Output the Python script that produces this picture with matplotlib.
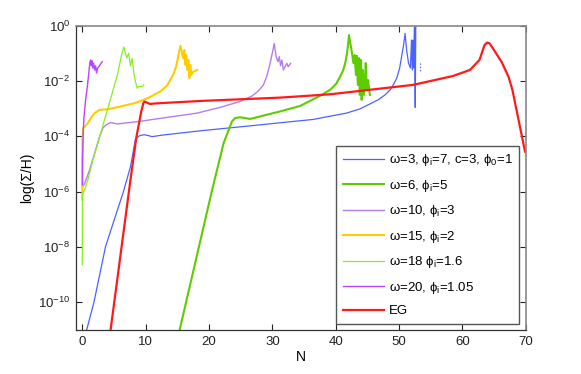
import numpy as np
import matplotlib
matplotlib.use("Agg")
import matplotlib.pyplot as plt
from matplotlib.ticker import FixedLocator, NullLocator

plt.rcParams['font.family'] = ['Liberation Sans', 'DejaVu Sans']
plt.rcParams['mathtext.default'] = 'regular'
plt.rcParams['font.size'] = 8

# ---------------- data (N, log10(Sigma/H)) ----------------
N_w3 = [0.68, 1.83, 3.67, 6.5, 7.6, 8.39, 9.0, 9.7, 10.4, 11.0, 11.9, 12.8, 18.6, 26.5, 31.2,
        36.4, 41.7, 43.8, 45.4, 46.7, 47.8, 48.6, 49.2, 49.65, 50.1, 50.4, 50.75, 50.96,
        51.2, 51.5, 51.8, 51.97, 52.1, 52.2, 52.3, 52.45, 52.56, 52.65]
L_w3 = [-11.0, -10.0, -7.98, -5.99, -5.1, -4.1, -3.98, -3.94, -3.97, -4.01, -3.98, -3.95, -3.80,
        -3.62, -3.51, -3.39, -3.16, -3.01, -2.83, -2.68, -2.50, -2.32, -2.10, -1.89, -1.53,
        -1.13, -0.66, -0.28, -0.88, -1.35, -1.53, -0.52, -1.60, -0.52, -1.53, 0.2, -2.95, 0.03]
N_w3b = [53.3, 53.3]
L_w3b = [-1.35, -1.71]

N_w6 = [15.37, 20.5, 22.3, 23.6, 24.1, 24.9, 26.5, 31.2, 34.4, 37.5, 39.1, 40.05, 40.7, 41.2,
        41.5, 41.8, 42.0, 42.1, 42.5, 42.8, 43.0, 43.2, 43.35, 43.5, 43.7, 43.8, 44.0, 44.1,
        44.3, 44.45, 44.6, 44.75, 44.9, 45.1, 45.4]
L_w6 = [-10.99, -5.93, -4.25, -3.47, -3.34, -3.31, -3.37, -3.10, -2.90, -2.54, -2.32, -2.11,
        -1.84, -1.60, -1.36, -0.99, -0.59, -0.34, -0.88, -1.35, -1.06, -1.78, -1.09, -2.14,
        -1.17, -2.50, -1.24, -2.68, -1.60, -2.50, -2.14, -1.35, -2.32, -1.96, -2.50]

N_w10 = [0.09, 0.36, 1.15, 1.94, 2.72, 3.24, 3.78, 4.46, 5.51, 8.66, 18.1, 21.8, 24.9, 26.8,
         27.8, 28.6, 29.1, 29.65, 30.1, 30.3, 30.6, 30.9, 31.1, 31.3, 31.5, 31.75, 32.0, 32.3,
         32.5, 32.9]
L_w10 = [-5.81, -5.71, -5.21, -4.61, -4.01, -3.70, -3.58, -3.50, -3.55, -3.47, -3.16, -2.95,
         -2.74, -2.54, -2.36, -2.14, -1.84, -1.36, -0.88, -0.64, -1.12, -1.30, -1.12, -1.45,
         -1.24, -1.60, -1.48, -1.36, -1.48, -1.36]

N_w15 = [0.0, 0.03, 0.13, 0.36, 0.88, 1.46, 1.94, 2.72, 4.03, 6.03, 8.24, 9.7, 10.75, 12.3,
         13.3, 13.9, 14.4, 14.8, 15.1, 15.3, 15.5, 15.7, 15.9, 16.1, 16.3, 16.4, 16.6, 16.75,
         16.9, 17.05, 17.2, 17.5, 18.1]
L_w15 = [-6.29, -4.13, -3.69, -3.65, -3.52, -3.30, -3.16, -3.04, -3.02, -2.92, -2.80, -2.68,
         -2.57, -2.38, -2.18, -1.96, -1.74, -1.48, -1.17, -0.91, -0.73, -0.95, -1.18, -0.88,
         -1.42, -1.06, -1.60, -1.24, -1.89, -1.42, -1.78, -1.67, -1.60]

N_w18 = [0.0, 0.02, 0.36, 0.88, 1.67, 2.46, 3.5, 4.57, 5.6, 6.19, 6.55, 7.0, 7.3, 7.6, 7.87,
         8.13, 8.4, 8.66, 8.9, 9.45, 9.7]
L_w18 = [-8.64, -6.11, -5.93, -5.57, -4.85, -4.25, -3.40, -2.56, -1.72, -1.06, -0.77, -1.17,
         -1.0, -1.45, -1.18, -1.72, -2.03, -2.26, -2.20, -2.20, -2.14]

N_w20 = [0.0, 0.02, 0.13, 0.25, 0.52, 0.79, 0.99, 1.2, 1.31, 1.43, 1.54, 1.67, 1.78, 1.94,
         2.1, 2.25, 2.4, 2.6, 2.88, 3.15]
L_w20 = [-5.75, -4.85, -3.95, -3.33, -2.68, -2.20, -1.78, -1.31, -1.24, -1.45, -1.27, -1.53,
         -1.35, -1.60, -1.45, -1.71, -1.53, -1.49, -1.38, -1.30]

N_eg = [4.46, 7.6, 8.55, 9.3, 9.65, 9.81, 10.2, 10.7, 11.5, 18.7, 31.2, 39.1, 52.2, 58.5, 61.2,
        62.7, 63.5, 63.9, 64.3, 64.8, 66.2, 67.3, 67.9, 69.9]
L_eg = [-11.0, -5.57, -4.01, -3.1, -2.79, -2.74, -2.78, -2.83, -2.81, -2.72, -2.60, -2.48,
        -2.14, -1.82, -1.60, -1.24, -0.70, -0.61, -0.64, -0.81, -1.31, -1.85, -2.32, -4.55]

labels = [r'ω=3, ϕ$_{i}$=7, c=3, ϕ$_{0}$=1', r'ω=6, ϕ$_{i}$=5', r'ω=10, ϕ$_{i}$=3',
          r'ω=15, ϕ$_{i}$=2', r'ω=18 ϕ$_{i}$=1.6', r'ω=20, ϕ$_{i}$=1.05', 'EG']
colors = ['#4a63ff', '#5fcc00', '#b57df2', '#ffcc00', '#88ee22', '#bb44ff', '#ff1a1a']
widths = [0.9, 1.5, 1.0, 1.5, 0.9, 1.0, 1.6]

xticks = [0, 10, 20, 30, 40, 50, 60, 70]
yticks_exp = [-10, -8, -6, -4, -2, 0]

# ---------------- figure ----------------
fig = plt.figure(figsize=(5.81, 3.74), dpi=100)
ax = fig.add_axes([0.1308, 0.1176, 0.7740, 0.8137])

series = [(N_w3, L_w3), (N_w6, L_w6), (N_w10, L_w10), (N_w15, L_w15),
          (N_w18, L_w18), (N_w20, L_w20), (N_eg, L_eg)]
for (n, l), lab, c, w in zip(series, labels, colors, widths):
    ax.semilogy(n, 10.0 ** np.array(l), color=c, lw=w, label=lab)
ax.semilogy(N_w3b, 10.0 ** np.array(L_w3b), color=colors[0], lw=0.9, ls=':')

ax.set_xlim(-1, 70)
ax.set_ylim(1e-11, 1)
ax.xaxis.set_major_locator(FixedLocator(xticks))
ax.yaxis.set_major_locator(FixedLocator([10.0 ** e for e in yticks_exp]))
ax.yaxis.set_minor_locator(NullLocator())
ax.set_yticklabels([r'$10^{%d}$' % e for e in yticks_exp])
ax.set_xticklabels([str(t) for t in xticks])
ax.tick_params(direction='in', length=4, width=0.8, top=True, right=True,
               labelsize=9.5, colors='#222222', pad=4)
for s in ['left', 'bottom']:
    ax.spines[s].set_color('#333333')
    ax.spines[s].set_linewidth(0.9)
for s in ['top', 'right']:
    ax.spines[s].set_color('#888888')
    ax.spines[s].set_linewidth(1.2)

ax.set_xlabel('N', fontsize=10, labelpad=2)
ax.set_ylabel('log(Σ/H)', fontsize=10, labelpad=3)

leg = ax.legend(loc='upper right', bbox_to_anchor=(0.986, 0.606), fontsize=9.5,
                handlelength=3.1, handletextpad=0.4, labelspacing=0.72,
                borderpad=0.5, borderaxespad=0.0, fancybox=False, framealpha=1)
leg.get_frame().set_edgecolor('#555555')
leg.get_frame().set_linewidth(1.0)

fig.savefig('out.png', dpi=100)
